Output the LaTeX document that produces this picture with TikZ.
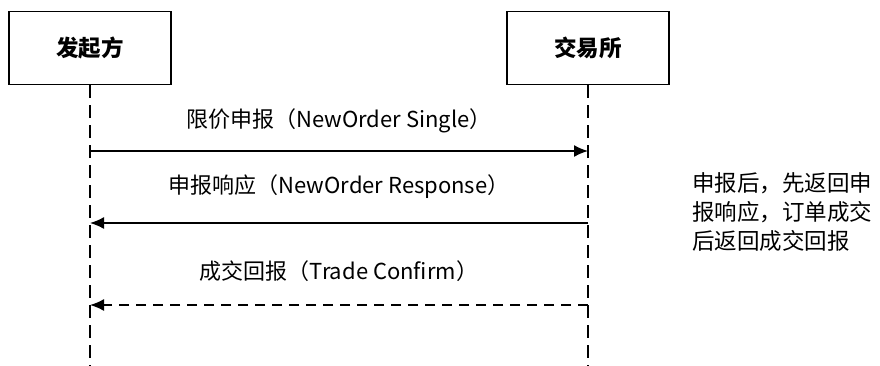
\documentclass[tikz,border=0pt]{standalone}
\usepackage{fontspec}
\setmainfont{Noto Sans CJK SC}
\usetikzlibrary{arrows.meta}
\begin{document}
\begin{tikzpicture}[x=1pt,y=-1pt,
  party/.style={draw, line width=1.4pt, minimum width=162pt, minimum height=73pt, inner sep=0pt, font=\bfseries\fontsize{22.5}{26}\selectfont},
  lifeline/.style={line width=1.8pt, dash pattern=on 13pt off 7pt},
  msg/.style={line width=1.6pt, -{Latex[length=14pt,width=12pt]}},
  reply/.style={msg, dash pattern=on 10pt off 7pt},
  msglabel/.style={font=\fontsize{22}{26}\selectfont, inner sep=0pt}]
\useasboundingbox (0,0) rectangle (880,365);
\node[party] (sender) at (90,48) {发起方};
\node[party] (exchange) at (588,48) {交易所};
\coordinate (sender end) at (90,366);
\coordinate (exchange end) at (588,366);
\draw[lifeline] (sender.south) -- (sender end);
\draw[lifeline] (exchange.south) -- (exchange end);
\coordinate (order s) at (90,151);
\coordinate (order e) at (588,151);
\coordinate (resp s) at (90,223);
\coordinate (resp e) at (588,223);
\coordinate (trade s) at (90,305);
\coordinate (trade e) at (588,305);
\draw[msg] (order s) -- node[msglabel, above=17pt] (order) {限价申报（NewOrder Single）} (order e);
\draw[msg] (resp e) -- node[msglabel, above=24pt] (resp) {申报响应（NewOrder Response）} (resp s);
\draw[reply] (trade e) -- node[msglabel, above=23pt] (trade) {成交回报（Trade Confirm）} (trade s);
\node[anchor=west, align=left, inner sep=0pt, font=\fontsize{22.5}{29}\selectfont] (note) at (692,212) {申报后，先返回申\\报响应，订单成交\\后返回成交回报};
\end{tikzpicture}
\end{document}
